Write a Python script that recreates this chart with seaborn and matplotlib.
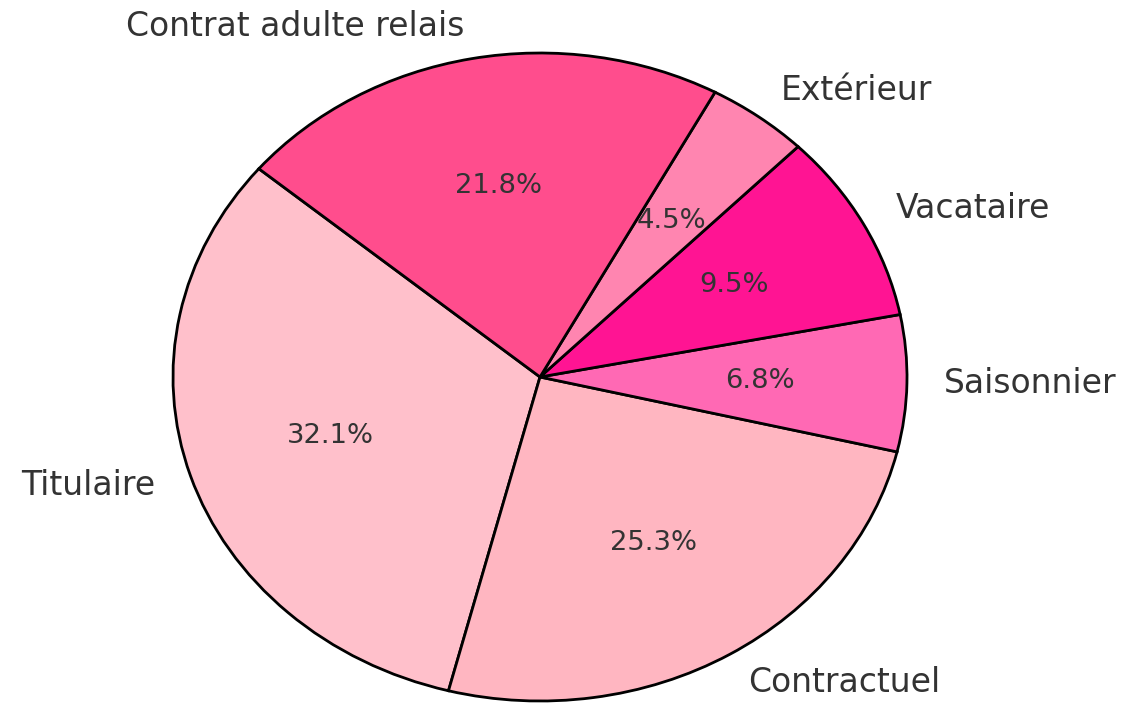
import matplotlib
matplotlib.use("Agg")
import matplotlib.pyplot as plt
import seaborn as sns

categories = ["Titulaire", "Contractuel", "Saisonnier", "Vacataire", "Extérieur", "Contrat adulte relais"]
values = [32.1, 25.3, 6.8, 9.5, 4.5, 21.8]
colors = ["#FFC0CB", "#FFB6C1", "#FF69B4", "#FF1493", "#FF85B0", "#FF4D8D"]

sns.set_style("white")
plt.rcParams['font.family'] = ['DejaVu Sans']

fig = plt.figure(figsize=(11.22, 7.03), dpi=100)
ax = fig.add_axes([0, 0, 1, 1])
wedges, texts, autotexts = ax.pie(
    values, labels=categories, colors=colors, autopct='%1.1f%%',
    startangle=140, labeldistance=1.1, pctdistance=0.6,
    wedgeprops=dict(edgecolor='black', linewidth=2),
    textprops=dict(color='#333333', fontsize=23.8),
)
for t in autotexts:
    t.set_fontsize(19.7)
ax.set_aspect('auto')
ax.set_xlim(-540 / 367, (1122 - 540) / 367)
ax.set_ylim(-(703 - 377) / 324, 377 / 324)
ax.axis('off')
fig.savefig("out.png", dpi=100)
